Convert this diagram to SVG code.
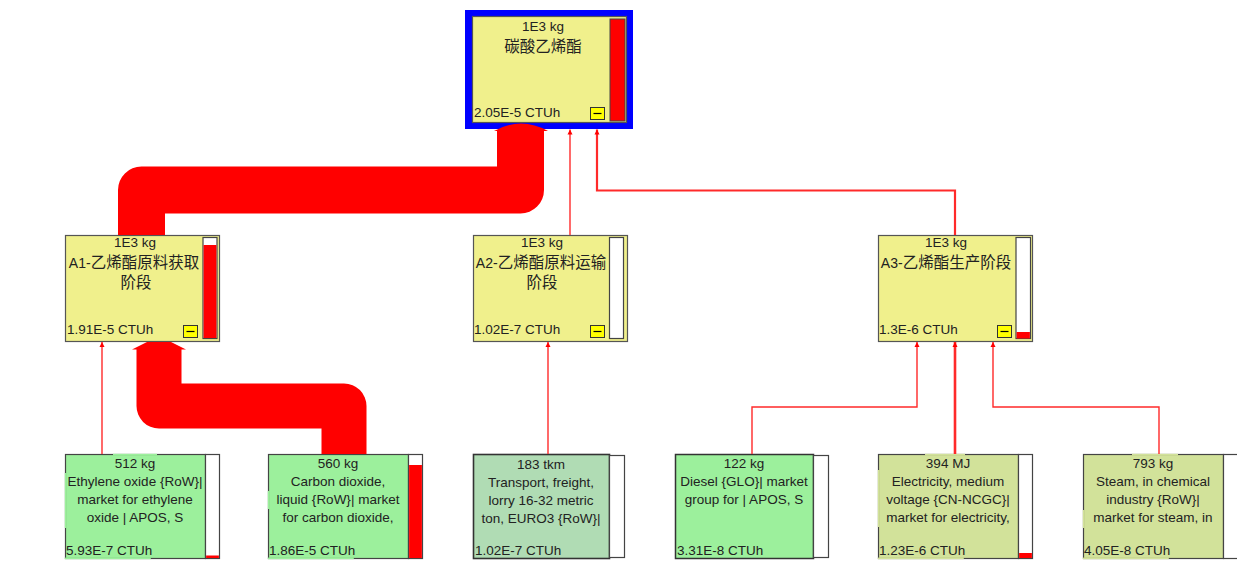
<svg xmlns="http://www.w3.org/2000/svg" width="1237" height="565" viewBox="0 0 1237 565">
<style>
text{font-family:"Liberation Sans","Noto Sans CJK SC",sans-serif;font-size:13.5px;fill:#222}
.c{text-anchor:middle}
.cjk{font-family:"Noto Sans CJK SC","Liberation Sans",sans-serif;font-size:15.5px}
.lat{font-size:14px}
.yel{fill:#f0f08c;stroke:#555;stroke-width:1.2}
.g1{fill:#9cf09c;stroke:#444;stroke-width:1.2}
.g2{fill:#b0dcb4;stroke:#333;stroke-width:1.6}
.g3{fill:#d2e29a;stroke:#444;stroke-width:1.2}
.bar{fill:#fff;stroke:#444;stroke-width:1.2}
.red{fill:#ff0000}
.btn{fill:#ffff00;stroke:#333;stroke-width:1}
.thick{fill:none;stroke:#ff0000;stroke-linejoin:round}
.thin{fill:none;stroke:#ff2a2a;stroke-width:1.4;marker-end:url(#ah)}
</style>
<defs>
<marker id="ah" markerUnits="userSpaceOnUse" markerWidth="6" markerHeight="6" refX="5" refY="3" orient="auto">
<path d="M0,0.5 L5,3 L0,5.5 z" fill="#ff0000"/>
</marker>
</defs>
<rect width="1237" height="565" fill="#fff"/>

<g id="top">
<rect x="465" y="10" width="168" height="119" fill="#0000ff"/>
<rect class="yel" x="472.5" y="16.5" width="154" height="106"/>
<rect class="red" x="610" y="19" width="15" height="102" stroke="#444" stroke-width="1"/>
<text class="c" x="543" y="31">1E3 kg</text>
<text class="c cjk" x="543" y="52">碳酸乙烯酯</text>
<text x="474" y="117">2.05E-5 CTUh</text>
<rect class="btn" x="590.5" y="107.5" width="14" height="12"/>
<line x1="593.5" y1="113.5" x2="601.5" y2="113.5" stroke="#000" stroke-width="1.2"/>
</g>

<g id="A1">
<rect class="yel" x="65.5" y="235.5" width="154" height="106"/>
<rect class="bar" x="203" y="237.5" width="14" height="101"/>
<rect class="red" x="203.6" y="245" width="12.8" height="93"/>
<text class="c" x="135" y="247">1E3 kg</text>
<text class="c" x="134" y="268"><tspan class="lat">A1-</tspan><tspan class="cjk">乙烯酯原料获取</tspan></text>
<text class="c cjk" x="136" y="288">阶段</text>
<text x="67" y="334">1.91E-5 CTUh</text>
<rect class="btn" x="183.5" y="325.5" width="14" height="12"/>
<line x1="186.5" y1="331.5" x2="194.5" y2="331.5" stroke="#000" stroke-width="1.2"/>
</g>

<g id="A2">
<rect class="yel" x="473.5" y="235.5" width="154" height="106"/>
<rect class="bar" x="609.5" y="237.5" width="14" height="101"/>
<text class="c" x="542" y="247">1E3 kg</text>
<text class="c" x="541" y="268"><tspan class="lat">A2-</tspan><tspan class="cjk">乙烯酯原料运输</tspan></text>
<text class="c cjk" x="542" y="288">阶段</text>
<text x="474" y="334">1.02E-7 CTUh</text>
<rect class="btn" x="590.5" y="325.5" width="14" height="12"/>
<line x1="593.5" y1="331.5" x2="601.5" y2="331.5" stroke="#000" stroke-width="1.2"/>
</g>

<g id="A3">
<rect class="yel" x="878.5" y="235.5" width="154" height="106"/>
<rect class="bar" x="1016" y="237.5" width="14.5" height="101"/>
<rect class="red" x="1016.6" y="332" width="13.3" height="6.5"/>
<text class="c" x="946" y="247">1E3 kg</text>
<text class="c" x="946" y="268"><tspan class="lat">A3-</tspan><tspan class="cjk">乙烯酯生产阶段</tspan></text>
<text x="879" y="334">1.3E-6 CTUh</text>
<rect class="btn" x="997.5" y="325.5" width="14" height="12"/>
<line x1="1000.5" y1="331.5" x2="1008.5" y2="331.5" stroke="#000" stroke-width="1.2"/>
</g>

<g id="B1">
<rect class="g1" x="65.5" y="454.5" width="140" height="104"/>
<rect class="bar" x="205.5" y="454.5" width="14" height="104"/>
<rect class="red" x="206.1" y="555.5" width="12.8" height="2.5"/>
<rect fill="#9cf09c" x="113" y="453.8" width="44" height="1.6"/>
<rect fill="#9cf09c" x="64.8" y="473" width="1.6" height="55"/>
<rect fill="#9cf09c" x="64.8" y="557.6" width="86" height="1.6"/>
<text class="c" x="135" y="468">512 kg</text>
<text class="c" x="135" y="486">Ethylene oxide {RoW}|</text>
<text class="c" x="135" y="504">market for ethylene</text>
<text class="c" x="135" y="522">oxide | APOS, S</text>
<text x="66" y="555">5.93E-7 CTUh</text>
</g>

<g id="B2">
<rect class="g1" x="268.5" y="454.5" width="140" height="104"/>
<rect class="bar" x="408.5" y="454.5" width="14" height="104"/>
<rect class="red" x="409.1" y="465" width="12.8" height="93"/>
<rect fill="#9cf09c" x="267.8" y="491" width="1.6" height="18"/>
<rect fill="#9cf09c" x="267.8" y="557.6" width="86" height="1.6"/>
<text class="c" x="338" y="468">560 kg</text>
<text class="c" x="338" y="486">Carbon dioxide,</text>
<text class="c" x="338" y="504">liquid {RoW}| market</text>
<text class="c" x="338" y="522">for carbon dioxide,</text>
<text x="269" y="555">1.86E-5 CTUh</text>
</g>

<g id="B3">
<rect class="g2" x="473.5" y="454.5" width="136" height="104"/>
<rect class="bar" x="609.5" y="455.5" width="15" height="102"/>
<text class="c" x="541" y="469">183 tkm</text>
<text class="c" x="541" y="487">Transport, freight,</text>
<text class="c" x="541" y="505">lorry 16-32 metric</text>
<text class="c" x="541" y="523">ton, EURO3 {RoW}|</text>
<text x="475" y="555">1.02E-7 CTUh</text>
</g>

<g id="B4">
<rect class="g1" x="675.5" y="454.5" width="138" height="104" style="stroke:#333;stroke-width:1.5"/>
<rect class="bar" x="813.5" y="455.5" width="15" height="102"/>
<text class="c" x="744" y="468">122 kg</text>
<text class="c" x="744" y="486">Diesel {GLO}| market</text>
<text class="c" x="744" y="504">group for | APOS, S</text>
<text x="677" y="555">3.31E-8 CTUh</text>
</g>

<g id="B5">
<rect class="g3" x="878.5" y="454.5" width="140" height="104"/>
<rect class="bar" x="1018.5" y="454.5" width="14" height="104"/>
<rect class="red" x="1019.1" y="553" width="12.8" height="5"/>
<rect fill="#d2e29a" x="925" y="453.8" width="40" height="1.6"/>
<rect fill="#d2e29a" x="877.8" y="470" width="1.6" height="57"/>
<rect fill="#d2e29a" x="877.8" y="557.6" width="86" height="1.6"/>
<text class="c" x="948" y="468">394 MJ</text>
<text class="c" x="948" y="486">Electricity, medium</text>
<text class="c" x="948" y="504">voltage {CN-NCGC}|</text>
<text class="c" x="948" y="522">market for electricity,</text>
<text x="879" y="555">1.23E-6 CTUh</text>
</g>

<g id="B6">
<rect class="g3" x="1083.5" y="454.5" width="140" height="104"/>
<rect class="bar" x="1223.5" y="454.5" width="16" height="104"/>
<rect fill="#d2e29a" x="1132" y="453.8" width="46" height="1.6"/>
<rect fill="#d2e29a" x="1082.8" y="510" width="1.6" height="18"/>
<rect fill="#d2e29a" x="1082.8" y="557.6" width="86" height="1.6"/>
<text class="c" x="1153" y="468">793 kg</text>
<text class="c" x="1153" y="486">Steam, in chemical</text>
<text class="c" x="1153" y="504">industry {RoW}|</text>
<text class="c" x="1153" y="522">market for steam, in</text>
<text x="1084" y="555">4.05E-8 CTUh</text>
</g>

<g id="connectors">
<path class="thick" d="M141.5,235 V190 H520.5 V130" stroke-width="47"/>
<path class="red" d="M494,131 Q521,116 548,131 Z"/>
<path class="thick" d="M344,454 V406 H159 V349" stroke-width="45"/>
<path class="red" d="M132,349.5 L147,342 L171,342 L186,349.5 Z"/>
<path class="thin" d="M102,454 V342"/>
<path class="thin" d="M570,235 V129.5"/>
<path class="thin" d="M955,235 V190.5 H597 V129.5" style="stroke-width:2.2"/>
<path class="thin" d="M548,454 V342"/>
<path class="thin" d="M752,454 V407 H917 V342"/>
<path class="thin" d="M955,454 V342" style="stroke-width:2.6"/>
<path class="thin" d="M1159,454 V407 H993 V342"/>
</g>
</svg>
